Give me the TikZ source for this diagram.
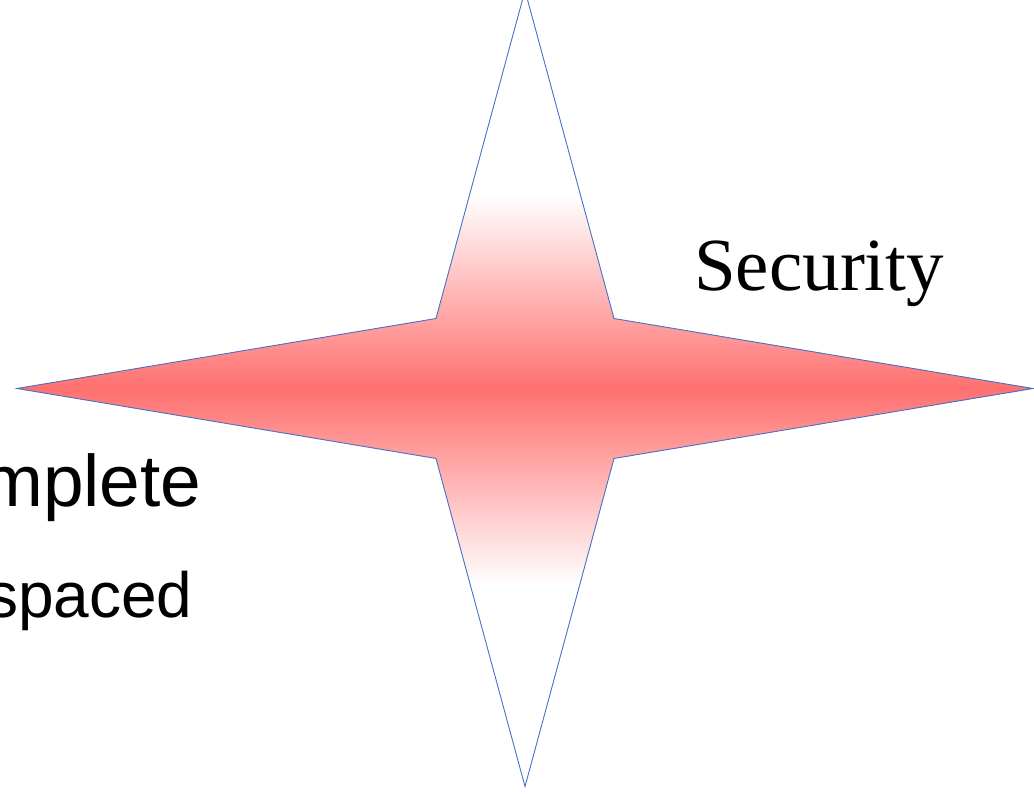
\documentclass[tikz,border=0pt]{standalone}
\usepackage{fontspec}
\newfontfamily\labelserif{Liberation Serif}
\newfontfamily\labelsans{Liberation Sans}
\definecolor{starred}{RGB}{255,112,112}
\definecolor{starline}{RGB}{68,114,196}
\tikzset{
  label text/.style={anchor=base west, inner sep=0pt, text=black},
  star outline/.style={draw=starline, line width=0.9pt, line join=miter},
}
\newcommand{\fourstar}{(525,-9.5) -- (614,318.5) -- (1033,388.5) -- (614,458.5) -- (525,786.5) -- (436,458.5) -- (17,388.5) -- (436,318.5) -- cycle}
\begin{document}
\begin{tikzpicture}[x=1pt, y=-1pt]
  \useasboundingbox (0,0) rectangle (1034,794);
  % four-pointed star with a band of red shading across its middle
  \begin{scope}
    \clip \fourstar;
    \shade[top color=white, bottom color=starred] (0,195) rectangle (1034,388.5);
    \shade[top color=starred, bottom color=white] (0,388.5) rectangle (1034,585);
  \end{scope}
  \path[star outline] \fourstar;
  % labels
  \node[label text, font=\labelserif\fontsize{75}{90}\selectfont] (security) at (694,291) {Security};
  \node[label text, font=\labelsans\fontsize{73}{88}\selectfont] (mplete) at (-18,506) {mplete};
  \node[label text, font=\labelsans\fontsize{64}{77}\selectfont] (spaced) at (-14,617) {spaced};
\end{tikzpicture}
\end{document}
